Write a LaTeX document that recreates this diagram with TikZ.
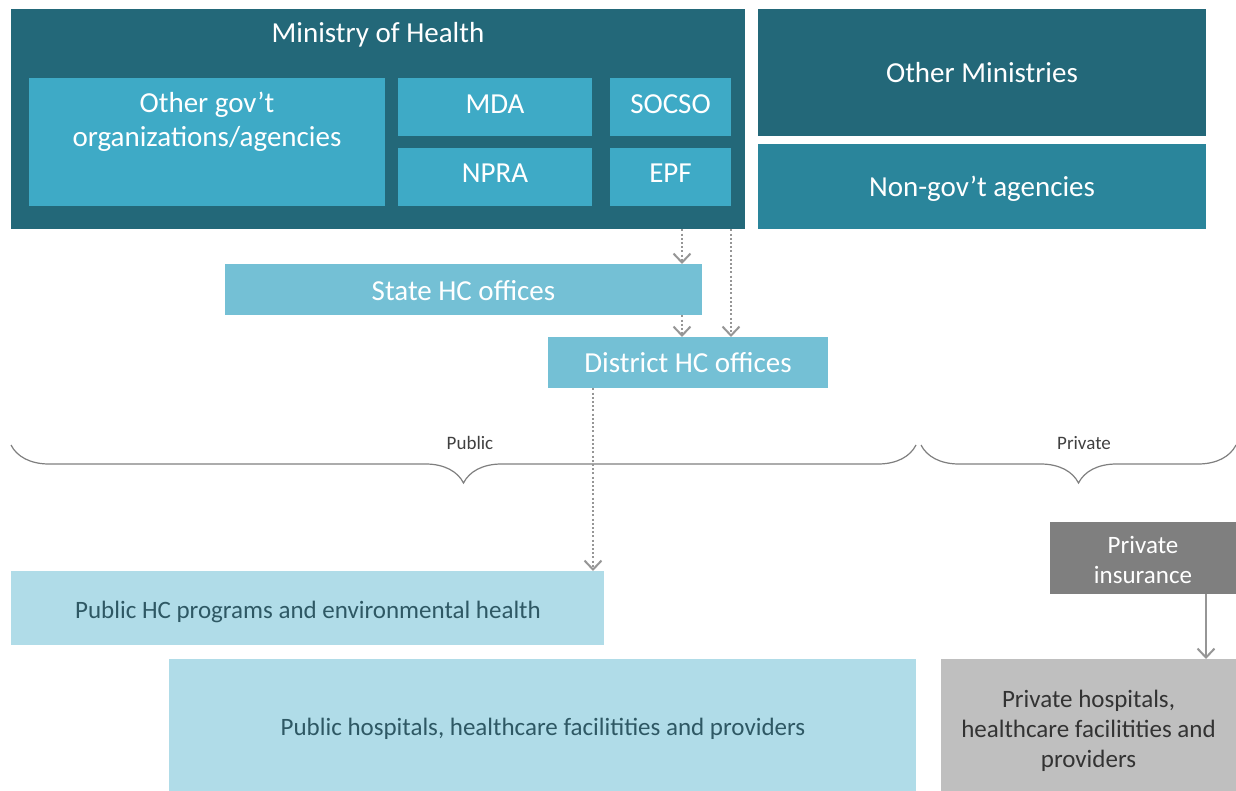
\documentclass[tikz,border=0pt]{standalone}
\usepackage{fontspec}
\setmainfont{Carlito}
\usetikzlibrary{arrows.meta,decorations.pathreplacing}
\definecolor{darkteal}{RGB}{35,104,121}
\definecolor{midteal}{RGB}{42,133,155}
\definecolor{brightblue}{RGB}{62,170,198}
\definecolor{skyblue}{RGB}{116,192,213}
\definecolor{paleblue}{RGB}{176,220,232}
\definecolor{darkgrey}{RGB}{127,127,127}
\definecolor{lightgrey}{RGB}{191,191,191}
\definecolor{paletext}{RGB}{46,88,100}
\definecolor{linegrey}{RGB}{150,150,150}
\tikzset{
  box/.style={rectangle, inner sep=0pt, anchor=north west, draw=none},
  wtext/.style={text=white, align=center, inner sep=0pt, font=\fontsize{29}{34}\selectfont},
  ptext/.style={text=paletext, align=center, inner sep=0pt, font=\fontsize{25}{30}\selectfont},
  gtext/.style={text=black!80, align=center, inner sep=0pt, font=\fontsize{25}{30}\selectfont},
  itext/.style={text=white, align=center, inner sep=0pt, font=\fontsize{25}{30}\selectfont},
  dotarrow/.style={draw=linegrey, line width=2pt, dash pattern=on 2pt off 2.2pt, -{Straight Barb[length=9pt,width=17pt,line width=2pt]}},
  solidarrow/.style={draw=linegrey, line width=2pt, -{Straight Barb[length=9pt,width=17pt,line width=2pt]}},
  bracestyle/.style={draw=darkgrey, line width=1.2pt, decorate, decoration={brace, amplitude=38pt, mirror}},
  bracelabel/.style={text=black!75, font=\fontsize{19}{22}\selectfont}
}
\begin{document}
\begin{tikzpicture}[x=1pt,y=-1pt]
\useasboundingbox (0,0) rectangle (1236,791);
% Ministry of Health block
\node[box, fill=darkteal, minimum width=734pt, minimum height=220pt] (moh) at (11,9) {};
\node[wtext] (mohlabel) at (378,35) {Ministry of Health};
\node[box, fill=brightblue, minimum width=356pt, minimum height=128pt] (othergov) at (29,78) {};
\node[wtext] (othergovtext) at (207,122) {Other gov’t\\organizations/agencies};
\node[box, fill=brightblue, minimum width=194pt, minimum height=58pt] (mda) at (398,78) {};
\node[wtext] (mdatext) at (495,104) {MDA};
\node[box, fill=brightblue, minimum width=121pt, minimum height=58pt] (socso) at (610,78) {};
\node[wtext] (socsotext) at (670.5,104) {SOCSO};
\node[box, fill=brightblue, minimum width=194pt, minimum height=58pt] (npra) at (398,148) {};
\node[wtext] (npratext) at (495,173) {NPRA};
\node[box, fill=brightblue, minimum width=121pt, minimum height=58pt] (epf) at (610,148) {};
\node[wtext] (epftext) at (670.5,173) {EPF};
% right column
\node[box, fill=darkteal, minimum width=448pt, minimum height=127pt] (othermin) at (758,9) {};
\node[wtext] (otherminext) at (982,73) {Other Ministries};
\node[box, fill=midteal, minimum width=448pt, minimum height=85pt] (nongov) at (758,144) {};
\node[wtext] (nongovtext) at (982,188.5) {Non-gov’t agencies};
% offices
\node[box, fill=skyblue, minimum width=477pt, minimum height=51pt] (state) at (225,264) {};
\node[wtext] (statetext) at (463.5,290.5) {State HC offices};
\node[box, fill=skyblue, minimum width=280pt, minimum height=51pt] (district) at (548,337) {};
\node[wtext] (districttext) at (688,362.5) {District HC offices};
% braces
\draw[bracestyle] (11,445) -- (916,445);
\node[bracelabel] (publabel) at (470,443) {Public};
\draw[bracestyle] (921,445) -- (1236,445);
\node[bracelabel] (privlabel) at (1084,443) {Private};
% lower boxes
\node[box, fill=paleblue, minimum width=593pt, minimum height=74pt] (pubprog) at (11,571) {};
\node[ptext] (pubprogtext) at (308,612) {Public HC programs and environmental health};
\node[box, fill=paleblue, minimum width=747pt, minimum height=132pt] (pubhosp) at (169,659) {};
\node[ptext] (pubhosptext) at (543,729) {Public hospitals, healthcare facilitities and providers};
\node[box, fill=darkgrey, minimum width=186pt, minimum height=72pt] (privins) at (1050,522) {};
\node[itext] (privinstext) at (1143,560) {Private\\insurance};
\node[box, fill=lightgrey, minimum width=295pt, minimum height=132pt] (privhosp) at (941,659) {};
\node[gtext] (privhosptext) at (1088.5,731) {Private hospitals,\\healthcare facilitities and\\providers};
% connectors
\coordinate (ax1) at (682,0);
\coordinate (ax2) at (731,0);
\coordinate (ax3) at (593,0);
\coordinate (ax4) at (1206,0);
\draw[dotarrow] (ax1 |- moh.south) -- (ax1 |- state.north);
\draw[dotarrow] (ax1 |- state.south) -- (ax1 |- district.north);
\draw[dotarrow] (ax2 |- moh.south) -- (ax2 |- district.north);
\draw[dotarrow] (ax3 |- district.south) -- (ax3 |- pubprog.north);
\draw[solidarrow] (ax4 |- privins.south) -- (ax4 |- privhosp.north);
\end{tikzpicture}
\end{document}
